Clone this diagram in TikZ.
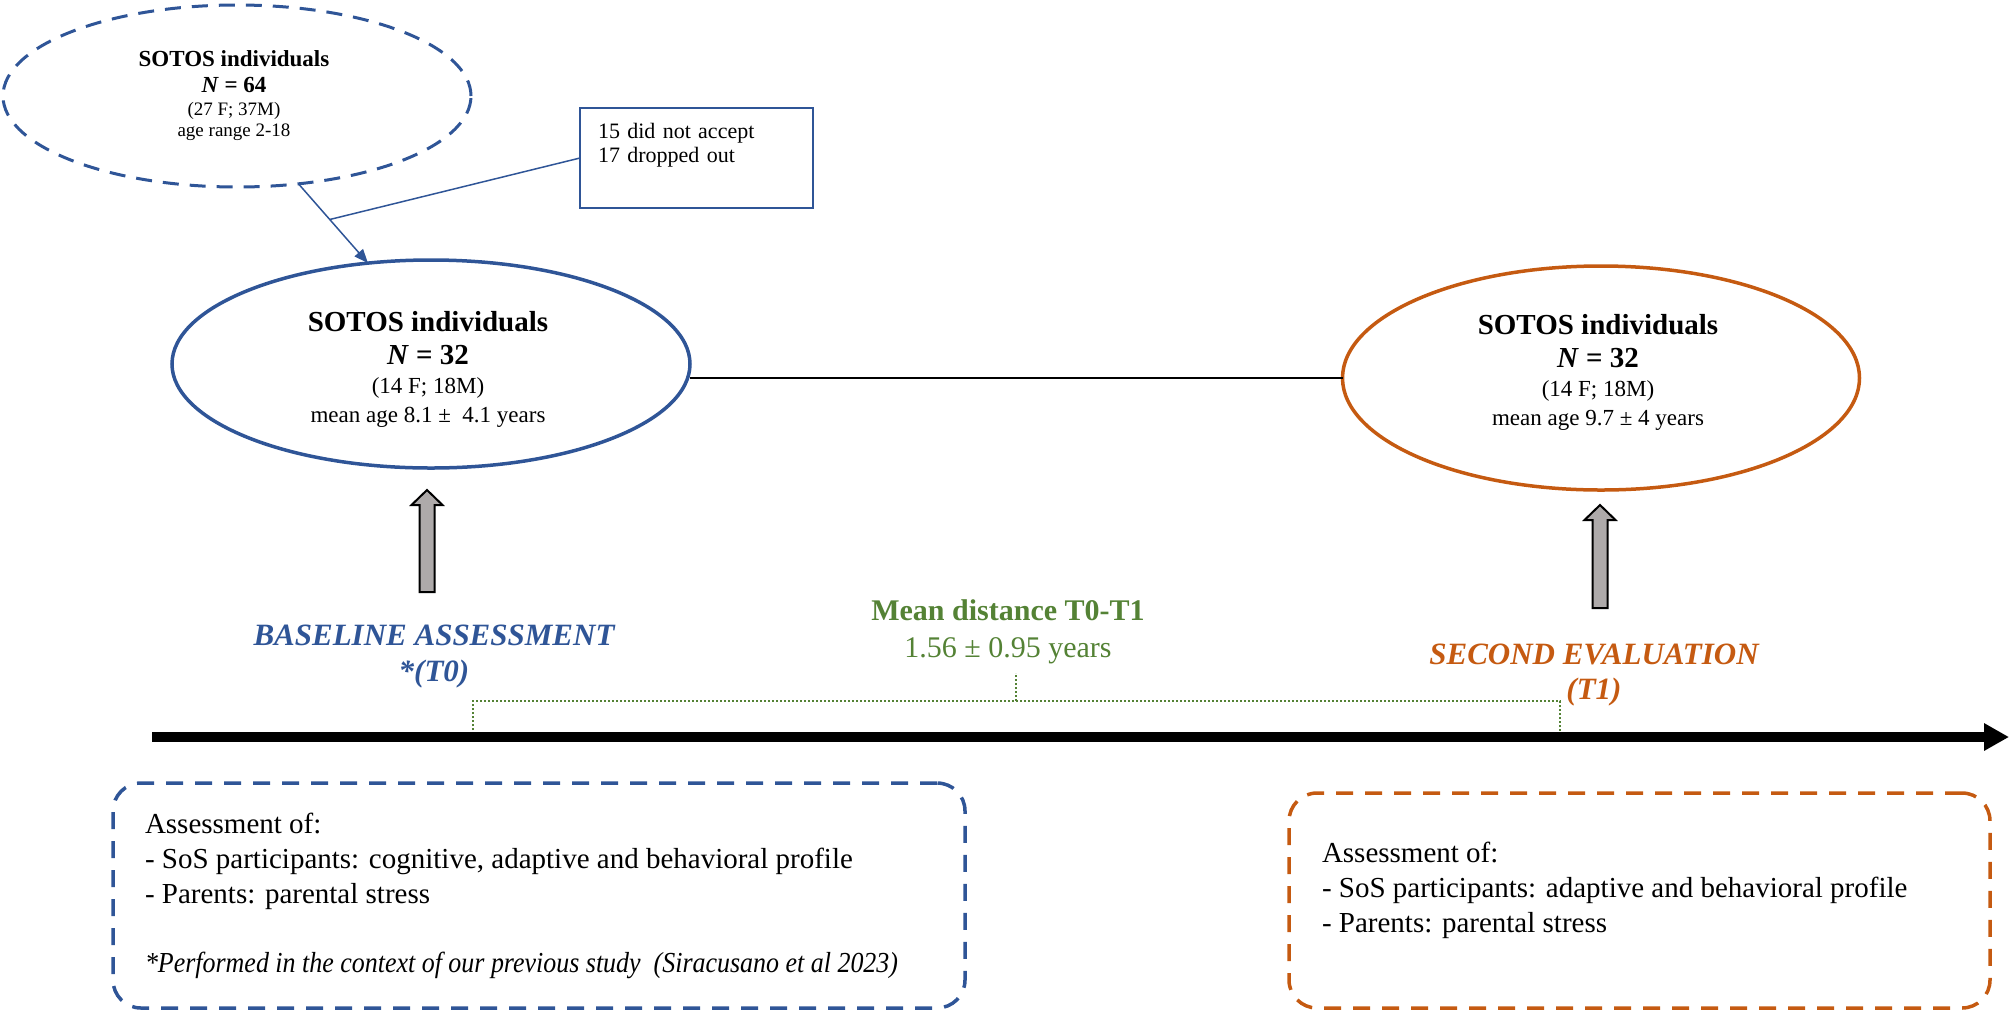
\documentclass[tikz,border=0pt]{standalone}
\usepackage{fontspec}
\setmainfont{Liberation Serif}
\newfontfamily\citfont{Liberation Serif}[FakeStretch=0.895]
\usetikzlibrary{arrows.meta,shapes.geometric}
\definecolor{sblue}{HTML}{2F5597}
\definecolor{sorange}{HTML}{C55A11}
\definecolor{sgreen}{HTML}{548235}
\definecolor{sgray}{HTML}{AEAAAA}
\newcommand{\fsz}[2]{\fontsize{#1}{#2}\selectfont}
\begin{document}
\begin{tikzpicture}[x=1pt,y=-1pt,
  every node/.style={inner sep=0pt, outer sep=0pt},
  dashell/.style={ellipse, draw=sblue, line width=3pt, dash pattern=on 16pt off 11pt},
  blueell/.style={ellipse, draw=sblue, line width=3.5pt},
  orangeell/.style={ellipse, draw=sorange, line width=3.5pt},
  thinblue/.style={draw=sblue, line width=1.5pt},
  dropbox/.style={rectangle, draw=sblue, line width=1.5pt},
  grayarrow/.style={draw=black, line width=2pt, fill=sgray, line join=miter},
  bluedashbox/.style={rectangle, draw=sblue, line width=3.5pt, rounded corners=28pt, dash pattern=on 17pt off 12pt},
  orangedashbox/.style={rectangle, draw=sorange, line width=3.5pt, rounded corners=28pt, dash pattern=on 17pt off 12pt},
  bracketline/.style={draw=sgreen, line width=2.8pt, dash pattern=on 2pt off 2pt},
  timeline/.style={draw=black, line width=10pt, -{Triangle[length=25pt,width=26pt]}},
  boxtext/.style={align=left, font=\fsz{29}{35}},
  ]
\useasboundingbox (0,0) rectangle (2013,1013);

% top dashed ellipse
\node[dashell, minimum width=468pt, minimum height=182pt] (pop64) at (237,96) {};
\node[align=center, font=\fsz{19}{21}] (pop64txt) at (234,95.5)
  {{\fsz{23}{25}\bfseries SOTOS individuals}\\[5pt]
   {\fsz{23}{25}\bfseries\textit{N} = 64}\\[2pt]
   (27 F; 37M)\\
   age range 2-18};

% drop box
\node[dropbox, minimum width=233pt, minimum height=100pt, text width=197pt, inner xsep=18pt, align=left, font=\fsz{22}{24}] (drop) at (696.5,158)
  {15 did not accept\\17 dropped out\\ \strut};

% baseline ellipse
\node[blueell, minimum width=518pt, minimum height=208pt] (base32) at (431,364) {};
\node[align=center, font=\fsz{23}{29}] (base32txt) at (428,369.5)
  {{\fsz{29}{33}\bfseries SOTOS individuals}\\[4pt]
   {\fsz{29}{33}\bfseries\textit{N} = 32}\\
   (14 F; 18M)\\
   mean age 8.1 ±~ 4.1 years};

% follow-up ellipse
\node[orangeell, minimum width=517pt, minimum height=224pt] (follow32) at (1601,378) {};
\node[align=center, font=\fsz{23}{29}] (follow32txt) at (1598,372.5)
  {{\fsz{29}{33}\bfseries SOTOS individuals}\\[4pt]
   {\fsz{29}{33}\bfseries\textit{N} = 32}\\
   (14 F; 18M)\\
   mean age 9.7 ± 4 years};

% connectors
\draw[thinblue, -{Triangle[length=14pt,width=11pt]}] (pop64.-55.7) -- coordinate[pos=0.45] (join) (base32.122.8);
\draw[thinblue] (drop.west) -- (join);
\draw[black, line width=1.5pt] (base32.east |- follow32.west) -- (follow32.west);

% gray block arrows
\coordinate (garrA) at (427,592);
\coordinate (garrB) at (1600,608);
\draw[grayarrow, shift={(garrA)}] (-7.5,0) -- (-7.5,-87) -- (-15.5,-87) -- (0,-102) -- (15.5,-87) -- (7.5,-87) -- (7.5,0) -- cycle;
\draw[grayarrow, shift={(garrB)}] (-7.5,0) -- (-7.5,-88) -- (-15.5,-88) -- (0,-103) -- (15.5,-88) -- (7.5,-88) -- (7.5,0) -- cycle;

% time labels
\node[align=center, font=\fsz{31}{36}\bfseries\itshape, text=sblue] (t0lab) at (434,656.5) {BASELINE ASSESSMENT\\*(T0)};
\node[align=center, font=\fsz{31}{35}\bfseries\itshape, text=sorange] (t1lab) at (1594,675.5) {SECOND EVALUATION\\(T1)};
\node[align=center, font=\fsz{30}{37}, text=sgreen] (mean) at (1008,632) {\textbf{Mean distance T0-T1}\\1.56 ± 0.95 years};

% dotted bracket
\coordinate (brL) at (473,701);
\coordinate (brR) at (1560,701);
\coordinate (brM) at (1016,701);
\draw[bracketline] (473,734) -- (brL) -- (brR) -- (1560,734);
\draw[bracketline] (brM) -- (1016,673);

% timeline
\coordinate (tl0) at (152,737);
\coordinate (tl1) at (2009,737);
\draw[timeline] (tl0) -- (tl1);

% bottom boxes
\node[bluedashbox, minimum width=852pt, minimum height=225pt] (t0box) at (539,895.5) {};
\node[boxtext, anchor=north west] (t0text) at (145,813)
  {Assessment of:\\
   - SoS participants: cognitive, adaptive and behavioral profile\\
   - Parents: parental stress\\[34pt]
   {\citfont\itshape *Performed in the context of our previous study~ (Siracusano et al 2023)}};
\node[orangedashbox, minimum width=701pt, minimum height=215pt] (t1box) at (1639.5,900.5) {};
\node[boxtext, anchor=north west] (t1text) at (1322,842)
  {Assessment of:\\
   - SoS participants: adaptive and behavioral profile\\
   - Parents: parental stress};
\end{tikzpicture}
\end{document}
